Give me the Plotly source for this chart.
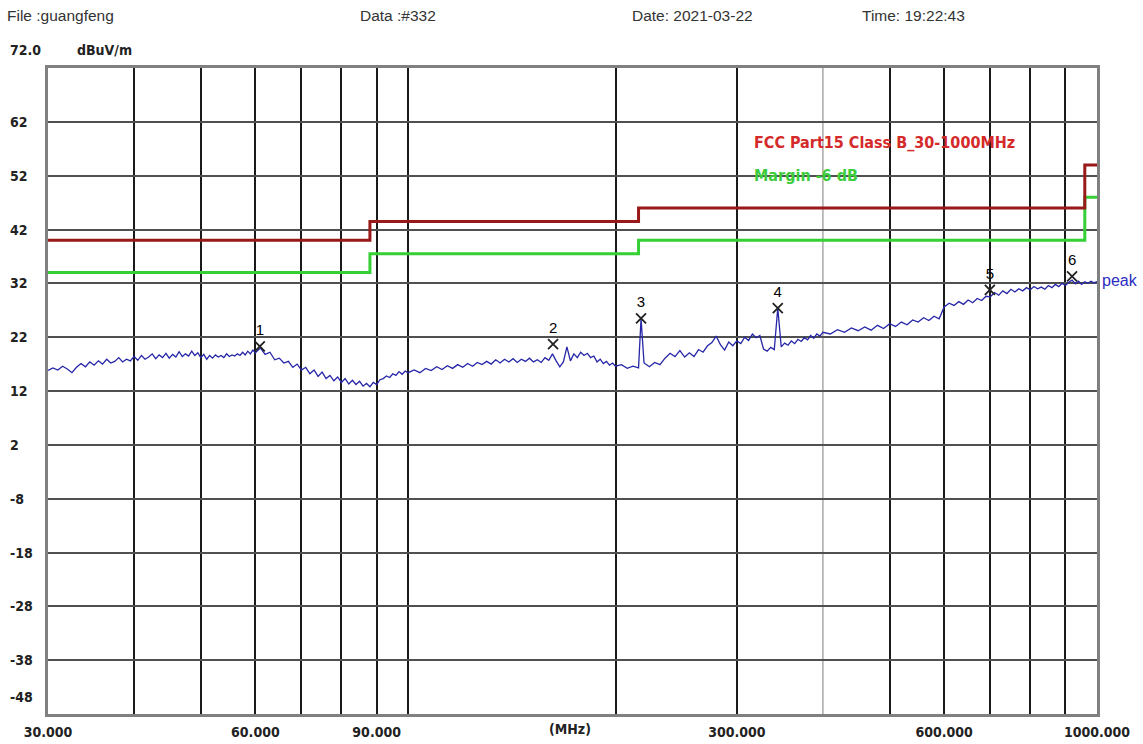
import math
import plotly.graph_objects as go

# ---------------- data ----------------
freq_mhz = [
    30.0, 30.5, 31.0, 31.5, 32.0, 32.5, 33.0, 33.5, 34.0, 34.5, 35.0, 35.5, 36.0, 36.5, 37.0, 37.5,
    38.0, 38.5, 39.0, 39.5, 40.0, 40.5, 41.0, 41.5, 42.0, 42.5, 43.0, 43.5, 44.0, 44.5, 45.0, 45.5,
    46.0, 46.5, 47.0, 47.5, 48.0, 48.5, 49.0, 49.5, 50.0, 50.5, 51.0, 51.5, 52.0, 52.5, 53.0, 53.5,
    54.0, 54.5, 55.0, 55.5, 56.0, 56.5, 57.0, 57.5, 58.0, 58.5, 59.0, 59.5, 60.0,
    61, 62, 63, 64, 65, 66, 67, 68, 69, 70, 71, 72, 73, 74, 75, 76, 77, 78, 79, 80,
    81, 82, 83, 84, 85, 86, 87, 88, 89, 90, 91, 92, 93, 94, 95, 96, 97, 98, 99, 100,
    102, 104, 106, 108, 110, 112, 114, 116, 118, 120, 122, 124, 126, 128, 130, 132, 134, 136, 138, 140,
    142, 144, 146, 148, 150, 152, 154, 156, 158, 160, 162, 164, 166, 168, 170, 172, 174, 176, 178, 180,
    182, 184, 186, 188, 190, 192, 194, 196, 198, 200,
    204, 208, 212, 216, 217.8, 220, 224, 228, 232, 236, 240, 244, 248, 252, 256, 260, 264, 268, 272, 276,
    280, 284, 288, 292, 296, 300, 304, 308, 312, 316, 320, 324, 328, 332, 336, 340, 344, 348, 352, 356,
    360, 364, 368, 372, 376, 380, 384, 388, 392, 396, 400,
    410, 420, 430, 440, 450, 460, 470, 480, 490, 500, 510, 520, 530, 540, 550, 560, 570, 580, 590, 600,
    610, 620, 630, 640, 650, 660, 670, 680, 690, 700, 710, 720, 730, 740, 750, 760, 770, 780, 790, 800,
    810, 820, 830, 840, 850, 860, 870, 880, 890, 900, 910, 920, 930, 940, 950, 960, 970, 980, 990, 1000,
]

peak_dbuv = [
    15.8, 16.3, 15.9, 16.6, 16.1, 15.4, 16.4, 17.1, 16.5, 17.4, 16.8, 17.6, 17.0, 17.9, 17.2, 17.5,
    18.2, 17.4, 17.9, 17.6, 18.4, 17.7, 18.6, 17.9, 18.3, 18.9, 18.0, 18.7, 18.2, 19.0, 18.1, 18.8,
    18.3, 19.3, 18.4, 18.9, 18.5, 19.4, 18.6, 19.1, 18.2, 18.8, 17.9, 18.6, 18.1, 18.7, 18.3, 18.6,
    18.2, 18.9, 18.4, 18.7, 18.5, 18.9, 18.6, 19.2, 18.7, 19.4, 18.9, 19.6, 19.1,
    20.0, 18.8, 19.2, 17.8, 18.1, 17.2, 17.5, 16.4, 17.0, 15.9, 16.4, 15.2, 15.9, 14.7, 15.5, 14.3, 14.9, 13.9, 14.6, 13.6,
    14.3, 13.3, 14.0, 13.2, 13.8, 12.9, 13.4, 12.8, 13.6, 13.2, 14.1, 14.3, 14.8, 14.5, 15.2, 14.9, 15.6, 15.1, 15.7, 15.4,
    15.9, 15.4, 16.2, 15.8, 16.5, 16.0, 16.7, 16.2, 16.9, 16.4, 17.1, 16.6, 17.3, 16.9, 17.5, 17.0, 17.8, 17.2, 17.9, 17.4,
    18.0, 17.3, 17.9, 17.5, 18.1, 17.4, 17.8, 17.3, 18.2, 17.7, 18.9, 17.6, 16.5, 17.4, 20.2, 17.6, 18.9, 18.2, 19.2, 18.6,
    19.0, 18.2, 18.5, 17.4, 17.9, 17.1, 17.5, 16.8, 17.2, 16.6,
    16.9, 16.2, 16.6, 16.3, 25.4, 17.2, 16.5, 17.3, 16.9, 18.1, 19.0, 18.4, 19.5, 18.3, 19.1, 18.4, 19.7, 19.2, 20.4, 21.0,
    22.2, 20.6, 19.6, 21.1, 20.4, 21.3, 20.8, 22.0, 21.4, 22.6, 21.9, 22.3, 19.8, 19.4, 20.1, 19.7, 27.4, 20.2, 20.9, 20.5,
    21.3, 20.8, 21.6, 21.2, 21.9, 21.5, 22.3, 21.8, 22.6, 22.2, 22.9,
    22.6, 23.4, 22.9, 23.7, 23.2, 23.9, 23.3, 24.2, 23.6, 24.5, 24.0, 24.8, 24.3, 25.2, 24.8, 25.6, 25.1, 25.9, 25.4, 27.6,
    28.3, 27.9, 28.6, 28.1, 28.9, 28.4, 29.2, 28.8, 29.6, 29.5, 30.3, 29.8, 30.6, 30.1, 30.9, 30.4, 31.0, 30.6, 31.2, 30.8,
    31.4, 31.0, 31.3, 30.9, 31.6, 31.2, 31.8, 31.4, 32.0, 31.6, 32.2, 32.6, 31.9, 32.4, 31.8, 32.3, 32.0, 32.4, 32.1, 32.3,
]
assert len(freq_mhz) == len(peak_dbuv), (len(freq_mhz), len(peak_dbuv))

limit_freq = [30, 88, 216, 960, 1000]
limit_level = [40.0, 43.5, 46.0, 54.0, 54.0]
margin_level = [34.0, 37.5, 40.0, 48.0, 48.0]

marker_freq = [60.9, 162.3, 217.8, 344, 699, 920]
marker_level = [20.3, 20.7, 25.5, 27.4, 30.8, 33.3]
marker_label = ["1", "2", "3", "4", "5", "6"]

x_grid = [30, 40, 50, 60, 70, 80, 90, 100, 200, 300, 500, 600, 700, 800, 900, 1000]
x_ticktext = ["30.000", "", "", "60.000", "", "", "90.000", "", "", "300.000", "", "600.000", "", "", "", "1000.000"]
y_ticks = [62, 52, 42, 32, 22, 12, 2, -8, -18, -28, -38]

header = [("File :guangfeng", 5), ("Data :#332", 358), ("Date: 2021-03-22", 630), ("Time: 19:22:43", 860)]

# ---------------- layout constants ----------------
W, H = 1143, 744
L, R, T, B = 48, 46, 68, 30
PW, PH = W - L - R, H - T - B
NARROW = "Liberation Sans Narrow, DejaVu Sans Condensed, Arial Narrow, Liberation Sans, sans-serif"
SANS = "Liberation Sans, Arial, sans-serif"

fig = go.Figure()

fig.add_trace(go.Scatter(x=limit_freq, y=margin_level, mode="lines", line_shape="hv",
                         line=dict(color="#35d035", width=3), hoverinfo="skip", showlegend=False))
fig.add_trace(go.Scatter(x=limit_freq, y=limit_level, mode="lines", line_shape="hv",
                         line=dict(color="#991818", width=3), hoverinfo="skip", showlegend=False))
fig.add_trace(go.Scatter(x=freq_mhz, y=peak_dbuv, mode="lines",
                         line=dict(color="#2626a8", width=1.3), showlegend=False))
fig.add_trace(go.Scatter(x=marker_freq, y=marker_level, mode="markers+text", text=marker_label,
                         textposition="top center",
                         textfont=dict(family=SANS, size=15, color="#000000"),
                         marker=dict(symbol="x-thin", size=10, line=dict(color="#222", width=1.8)),
                         showlegend=False))

# light-gray 400 MHz grid line
fig.add_shape(type="line", xref="x", yref="paper", x0=400, x1=400, y0=0, y1=1,
              line=dict(color="#a8a8a8", width=1.5), layer="below")

ann = []
for txt, px in header:
    ann.append(dict(text=txt, xref="paper", yref="paper", x=(px - L) / PW, y=1 + (T - 16) / PH,
                    xanchor="left", yanchor="middle", showarrow=False,
                    font=dict(family=SANS, size=15.5, color="#333")))
ann.append(dict(text="72.0", xref="paper", yref="paper", x=(8 - L) / PW, y=1 + (T - 50) / PH,
                xanchor="left", yanchor="middle", showarrow=False,
                font=dict(family=NARROW, size=14, color="#222", weight="bold")))
ann.append(dict(text="dBuV/m", xref="paper", yref="paper", x=(75 - L) / PW, y=1 + (T - 50) / PH,
                xanchor="left", yanchor="middle", showarrow=False,
                font=dict(family=NARROW, size=14, color="#222", weight="bold")))
for v in y_ticks:
    ann.append(dict(text=str(v), xref="paper", yref="y", x=(8 - L) / PW, y=v,
                    xanchor="left", yanchor="middle", showarrow=False,
                    font=dict(family=NARROW, size=14, color="#222", weight="bold")))
ann.append(dict(text="-48", xref="paper", yref="paper", x=(8 - L) / PW, y=17 / PH,
                xanchor="left", yanchor="middle", showarrow=False,
                font=dict(family=NARROW, size=14, color="#222", weight="bold")))
ann.append(dict(text="(MHz)", xref="paper", yref="paper", x=(570 - L) / PW, y=-15 / PH,
                xanchor="center", yanchor="middle", showarrow=False,
                font=dict(family=NARROW, size=14, color="#222", weight="bold")))
ann.append(dict(text="peak", xref="paper", yref="y", x=1.0, y=32.6, xshift=3,
                xanchor="left", yanchor="middle", showarrow=False,
                font=dict(family=SANS, size=16, color="#2b2bc0")))
ann.append(dict(text="FCC Part15 Class B_30-1000MHz", xref="paper", yref="y", x=(752 - L) / PW, y=58.1,
                xanchor="left", yanchor="middle", showarrow=False,
                font=dict(family=NARROW, size=16, color="#d42a2a", weight="bold")))
ann.append(dict(text="Margin -6 dB", xref="paper", yref="y", x=(752 - L) / PW, y=52.1,
                xanchor="left", yanchor="middle", showarrow=False,
                font=dict(family=NARROW, size=16, color="#3ccc3c", weight="bold")))

fig.update_layout(
    width=W, height=H,
    margin=dict(l=L, r=R, t=T, b=B, autoexpand=False),
    paper_bgcolor="white", plot_bgcolor="white",
    annotations=ann,
    xaxis=dict(type="log", range=[math.log10(30), math.log10(1000)], automargin=False,
               tickmode="array", tickvals=x_grid, ticktext=x_ticktext,
               showgrid=True, gridcolor="#1a1a1a", gridwidth=1.5,
               ticks="outside", ticklen=3, tickcolor="rgba(0,0,0,0)",
               tickfont=dict(family=NARROW, size=14, color="#222", weight="bold"),
               showline=True, mirror=True, linecolor="#808080", linewidth=3,
               zeroline=False, fixedrange=True),
    yaxis=dict(range=[-48, 72], tick0=-48, dtick=10, showticklabels=False, automargin=False,
               showgrid=True, gridcolor="#505050", gridwidth=1.5, ticks="",
               showline=True, mirror=True, linecolor="#808080", linewidth=3,
               zeroline=False, fixedrange=True),
)

fig.write_html("out.html")
